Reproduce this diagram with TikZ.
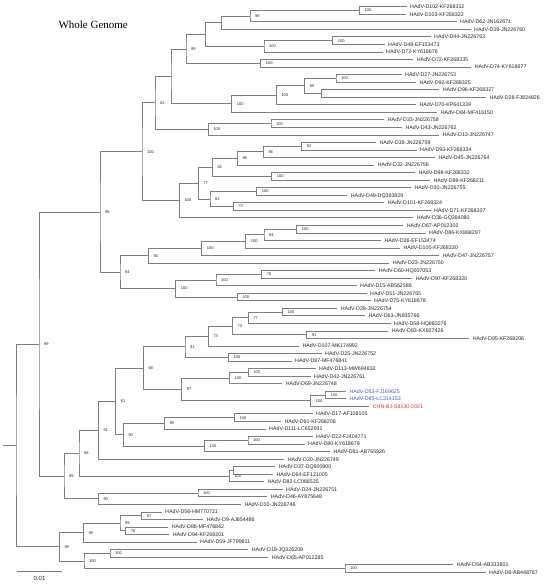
\documentclass[tikz,border=0pt]{standalone}
\usepackage{fontspec}
\setmainfont{Liberation Sans}
\newfontfamily\titlefont{Liberation Serif}
\usetikzlibrary{calc}
\definecolor{brc}{HTML}{7F7F7F}
\definecolor{txc}{HTML}{262626}
\definecolor{bluec}{HTML}{4A5FBE}
\definecolor{redc}{HTML}{E8302E}
% leaf: index, text start x, label, extra style
\newcommand\myleaf[4]{%
  \coordinate (t#1) at ({#2-3.3},{6.7+(#1-1)*7.54});
  \node[leaf,#4] (L#1) at (#2,{6.7+(#1-1)*7.54}) {#3};}
% internal node with support value: name, x, child1, child2, value
\newcommand\mynode[5]{%
  \path let \p1=(#3), \p2=(#4) in coordinate (#1) at (#2pt,{(\y1+\y2)/2});
  \draw[br] (#3) -| (#1) |- (#4);
  \node[boot] (v#1) at ([xshift=5pt]#1) {#5};}
% internal node without support value
\newcommand\mynodeq[4]{%
  \path let \p1=(#3), \p2=(#4) in coordinate (#1) at (#2pt,{(\y1+\y2)/2});
  \draw[br] (#3) -| (#1) |- (#4);}
\begin{document}
\begin{tikzpicture}[x=1pt,y=-1pt,
  br/.style={draw=brc,line width=0.75pt},
  leaf/.style={font=\fontsize{5.3}{6}\selectfont,text=txc,inner sep=0pt,anchor=west,text height=3.8pt,text depth=0pt},
  boot/.style={font=\fontsize{4}{5}\selectfont,text=txc,inner sep=0pt,anchor=west,text height=2.9pt,text depth=0pt}]
\useasboundingbox (0,0) rectangle (550,587);
\fill[white] (0,0) rectangle (550,587);
\node[font=\titlefont\fontsize{11}{13}\selectfont,anchor=base west,inner sep=0pt,text=black] (title) at (58.3,28.5) {Whole Genome};
% leaves
\myleaf{1}{410}{HAdV-D102-KF268312}{}
\myleaf{2}{409.3}{HAdV-D103-KF268322}{}
\myleaf{3}{460}{HAdV-D62-JN162671}{}
\myleaf{4}{474}{HAdV-D39-JN226760}{}
\myleaf{5}{434}{HAdV-D44-JN226763}{}
\myleaf{6}{388}{HAdV-D48-EF153473}{}
\myleaf{7}{386}{HAdV-D72-KY618676}{}
\myleaf{8}{416.7}{HAdV-D72-KF268335}{}
\myleaf{9}{474.7}{HAdV-D74-KY618677}{}
\myleaf{10}{405}{HAdV-D27-JN226753}{}
\myleaf{11}{419.3}{HAdV-D92-KF268325}{}
\myleaf{12}{442.7}{HAdV-D96-KF268327}{}
\myleaf{13}{489.3}{HAdV-D28-FJ824826}{}
\myleaf{14}{419.3}{HAdV-D70-KP641339}{}
\myleaf{15}{440.7}{HAdV-D84-MF416150}{}
\myleaf{16}{387.7}{HAdV-D33-JN226758}{}
\myleaf{17}{405.3}{HAdV-D43-JN226762}{}
\myleaf{18}{442.7}{HAdV-D13-JN226747}{}
\myleaf{19}{379.3}{HAdV-D38-JN226759}{}
\myleaf{20}{420}{HAdV-D93-KF268334}{}
\myleaf{21}{438.3}{HAdV-D45-JN226764}{}
\myleaf{22}{377.7}{HAdV-D32-JN226756}{}
\myleaf{23}{418.3}{HAdV-D98-KF268332}{}
\myleaf{24}{433.3}{HAdV-D99-KF268211}{}
\myleaf{25}{414.3}{HAdV-D30-JN226755}{}
\myleaf{26}{350.7}{HAdV-D49-DQ393829}{}
\myleaf{27}{387.7}{HAdV-D101-KF268324}{}
\myleaf{28}{434}{HAdV-D71-KF268207}{}
\myleaf{29}{416.7}{HAdV-D36-GQ384080}{}
\myleaf{30}{406.7}{HAdV-D67-AP012302}{}
\myleaf{31}{429}{HAdV-D86-KX868297}{}
\myleaf{32}{384.3}{HAdV-D26-EF153474}{}
\myleaf{33}{403.3}{HAdV-D100-KF268330}{}
\myleaf{34}{442.7}{HAdV-D47-JN226757}{}
\myleaf{35}{392.7}{HAdV-D23-JN226750}{}
\myleaf{36}{378.7}{HAdV-D60-HQ007053}{}
\myleaf{37}{415.7}{HAdV-D97-KF268320}{}
\myleaf{38}{360}{HAdV-D15-AB562586}{}
\myleaf{39}{370}{HAdV-D51-JN226765}{}
\myleaf{40}{374}{HAdV-D75-KY618678}{}
\myleaf{41}{340.7}{HAdV-D29-JN226754}{}
\myleaf{42}{368.3}{HAdV-D63-JN935766}{}
\myleaf{43}{394}{HAdV-D58-HQ883276}{}
\myleaf{44}{391.7}{HAdV-D83-KX827426}{}
\myleaf{45}{472.7}{HAdV-D95-KF268206}{}
\myleaf{46}{302.3}{HAdV-D107-MK174992}{}
\myleaf{47}{325}{HAdV-D25-JN226752}{}
\myleaf{48}{295}{HAdV-D87-MF476841}{}
\myleaf{49}{319}{HAdV-D113-MW694832}{}
\myleaf{50}{314}{HAdV-D42-JN226761}{}
\myleaf{51}{285.7}{HAdV-D69-JN226748}{}
\myleaf{52}{349.3}{HAdV-D53-FJ169625}{text=bluec}
\myleaf{53}{349.3}{HAdV-D85-LC314153}{text=bluec}
\myleaf{54}{372.7}{CHN-BJ-S8130-2021}{text=redc}
\myleaf{55}{316}{HAdV-D17-AF108105}{}
\myleaf{56}{284.3}{HAdV-D91-KF268208}{}
\myleaf{57}{269}{HAdV-D111-LC652931}{}
\myleaf{58}{316}{HAdV-D22-FJ404771}{}
\myleaf{59}{308}{HAdV-D80-KY618679}{}
\myleaf{60}{333.3}{HAdV-D81-AB765926}{}
\myleaf{61}{287.7}{HAdV-D20-JN226749}{}
\myleaf{62}{278.7}{HAdV-D37-DQ900900}{}
\myleaf{63}{276.3}{HAdV-D64-EF121005}{}
\myleaf{64}{267.3}{HAdV-D82-LC066535}{}
\myleaf{65}{286}{HAdV-D24-JN226751}{}
\myleaf{66}{270.7}{HAdV-D46-AY875648}{}
\myleaf{67}{244.3}{HAdV-D10-JN226746}{}
\myleaf{68}{165}{HAdV-D56-HM770721}{}
\myleaf{69}{206.7}{HAdV-D9-AJ854486}{}
\myleaf{70}{171.7}{HAdV-D88-MF476842}{}
\myleaf{71}{172.7}{HAdV-D94-KF268201}{}
\myleaf{72}{200}{HAdV-D59-JF799911}{}
\myleaf{73}{251.7}{HAdV-D19-JQ326209}{}
\myleaf{74}{271.7}{HAdV-D65-AP012285}{}
\myleaf{75}{456.7}{HAdV-D54-AB333801}{}
\myleaf{76}{489}{HAdV-D8-AB448767}{}
% top clade
\mynode{n1}{359.3}{t1}{t2}{100}
\mynode{n2}{250}{n1}{t3}{98}
\mynodeq{n3}{221.7}{n2}{t4}
\mynode{n4}{332.7}{t5}{t6}{100}
\mynode{n5}{264}{n4}{t7}{100}
\mynodeq{n6}{205.7}{n3}{n5}
\mynode{n7}{260.7}{t8}{t9}{100}
\mynode{n8}{186}{n6}{n7}{99}
\mynode{n9}{336}{t10}{t11}{100}
\mynodeq{n10}{321.7}{t12}{t13}
\mynode{n11}{304.7}{n9}{n10}{65}
\mynode{n12}{276.3}{n11}{t14}{100}
\mynode{n13}{231.7}{n12}{t15}{100}
\mynodeq{n14}{171}{n8}{n13}
\mynode{n16}{271}{t16}{t17}{100}
\mynode{n17}{208.3}{n16}{t18}{100}
\mynode{n15}{155}{n14}{n17}{62}
\mynode{m1}{301.7}{t19}{t20}{92}
\mynode{m2}{263.3}{m1}{t21}{86}
\mynode{m3}{237.3}{m2}{t22}{86}
\mynode{m4}{271.7}{t23}{t24}{100}
\mynode{m5}{212.3}{m3}{m4}{62}
\mynode{m6}{256.7}{t25}{t26}{100}
\mynode{m7}{233.3}{t27}{t28}{73}
\mynode{m8}{210}{m6}{m7}{63}
\mynode{m9}{198.3}{m5}{m8}{77}
\mynode{m10}{179.3}{m9}{t29}{100}
\mynode{aa}{142}{n15}{m10}{100}
\mynode{p1}{296.7}{t30}{t31}{100}
\mynode{p2}{264}{p1}{t32}{94}
\mynode{p3}{245.7}{p2}{t33}{100}
\mynode{p4}{201.7}{p3}{t34}{100}
\mynode{p5}{148.3}{p4}{t35}{94}
\mynode{p6}{261.7}{t36}{t37}{76}
\mynode{p7}{216}{p6}{t38}{100}
\mynode{p8}{237.3}{t39}{t40}{100}
\mynode{p9}{175.7}{p7}{p8}{100}
\mynode{ab}{120}{p5}{p9}{54}
\mynode{a1}{100}{aa}{ab}{98}
% middle clade
\mynode{q1}{282.5}{t41}{t42}{100}
\mynode{q2}{248.3}{q1}{t43}{77}
\mynode{q3}{306.7}{t44}{t45}{91}
\mynode{q4}{232.5}{q2}{q3}{73}
\mynode{q5}{208.3}{q4}{t46}{73}
\mynode{q6}{228.5}{t47}{t48}{100}
\mynode{q7}{185}{q5}{q6}{91}
\mynode{q8}{248.3}{t49}{t50}{100}
\mynode{q9}{229.5}{q8}{t51}{100}
\mynode{q10}{325.5}{t52}{t53}{100}
\mynode{q11}{310.5}{q10}{t54}{100}
\mynode{q12}{181.7}{q9}{q11}{97}
\mynode{q13}{143.3}{q7}{q12}{68}
\mynode{r1}{234.5}{t55}{t56}{100}
\mynode{r2}{164.3}{r1}{t57}{99}
\mynode{r3}{248}{t58}{t59}{100}
\mynode{r4}{204.5}{r3}{t60}{100}
\mynode{r5}{123.3}{r2}{r4}{50}
\mynode{q14}{115.7}{q13}{r5}{61}
\mynode{q15}{98.3}{q14}{t61}{61}
\mynodeq{s1}{233.3}{t62}{t63}
\mynode{s2}{229.3}{s1}{t64}{100}
\mynode{s3}{79}{q15}{s2}{58}
\mynode{s4}{198}{t65}{t66}{100}
\mynode{s5}{98.3}{s4}{t67}{90}
\mynode{a2}{64}{s3}{s5}{89}
\mynode{A}{39}{a1}{a2}{99}
% bottom clade
\mynode{b1}{141.7}{t68}{t69}{97}
\mynode{b2}{125.7}{t70}{t71}{76}
\mynode{b3}{120}{b1}{b2}{99}
\mynode{b4}{83.3}{b3}{t72}{99}
\mynode{b5}{110}{t73}{t74}{100}
\mynode{b6}{345}{t75}{t76}{100}
\mynode{b7}{84}{b5}{b6}{100}
\mynode{B}{59.3}{b4}{b7}{99}
% root
\mynodeq{root}{16}{A}{B}
\path let \p1=(root) in coordinate (rs) at (3pt,\y1);
\draw[br] (rs) -- (root);
% scale bar
\coordinate (sb1) at (17.3,571.7);
\coordinate (sb2) at (61.7,571.7);
\draw[br] (sb1) -- (sb2);
\node[font=\fontsize{6}{7}\selectfont,text=txc,inner sep=0pt] (sbl) at (39.5,578.5) {0.01};
\end{tikzpicture}
\end{document}
